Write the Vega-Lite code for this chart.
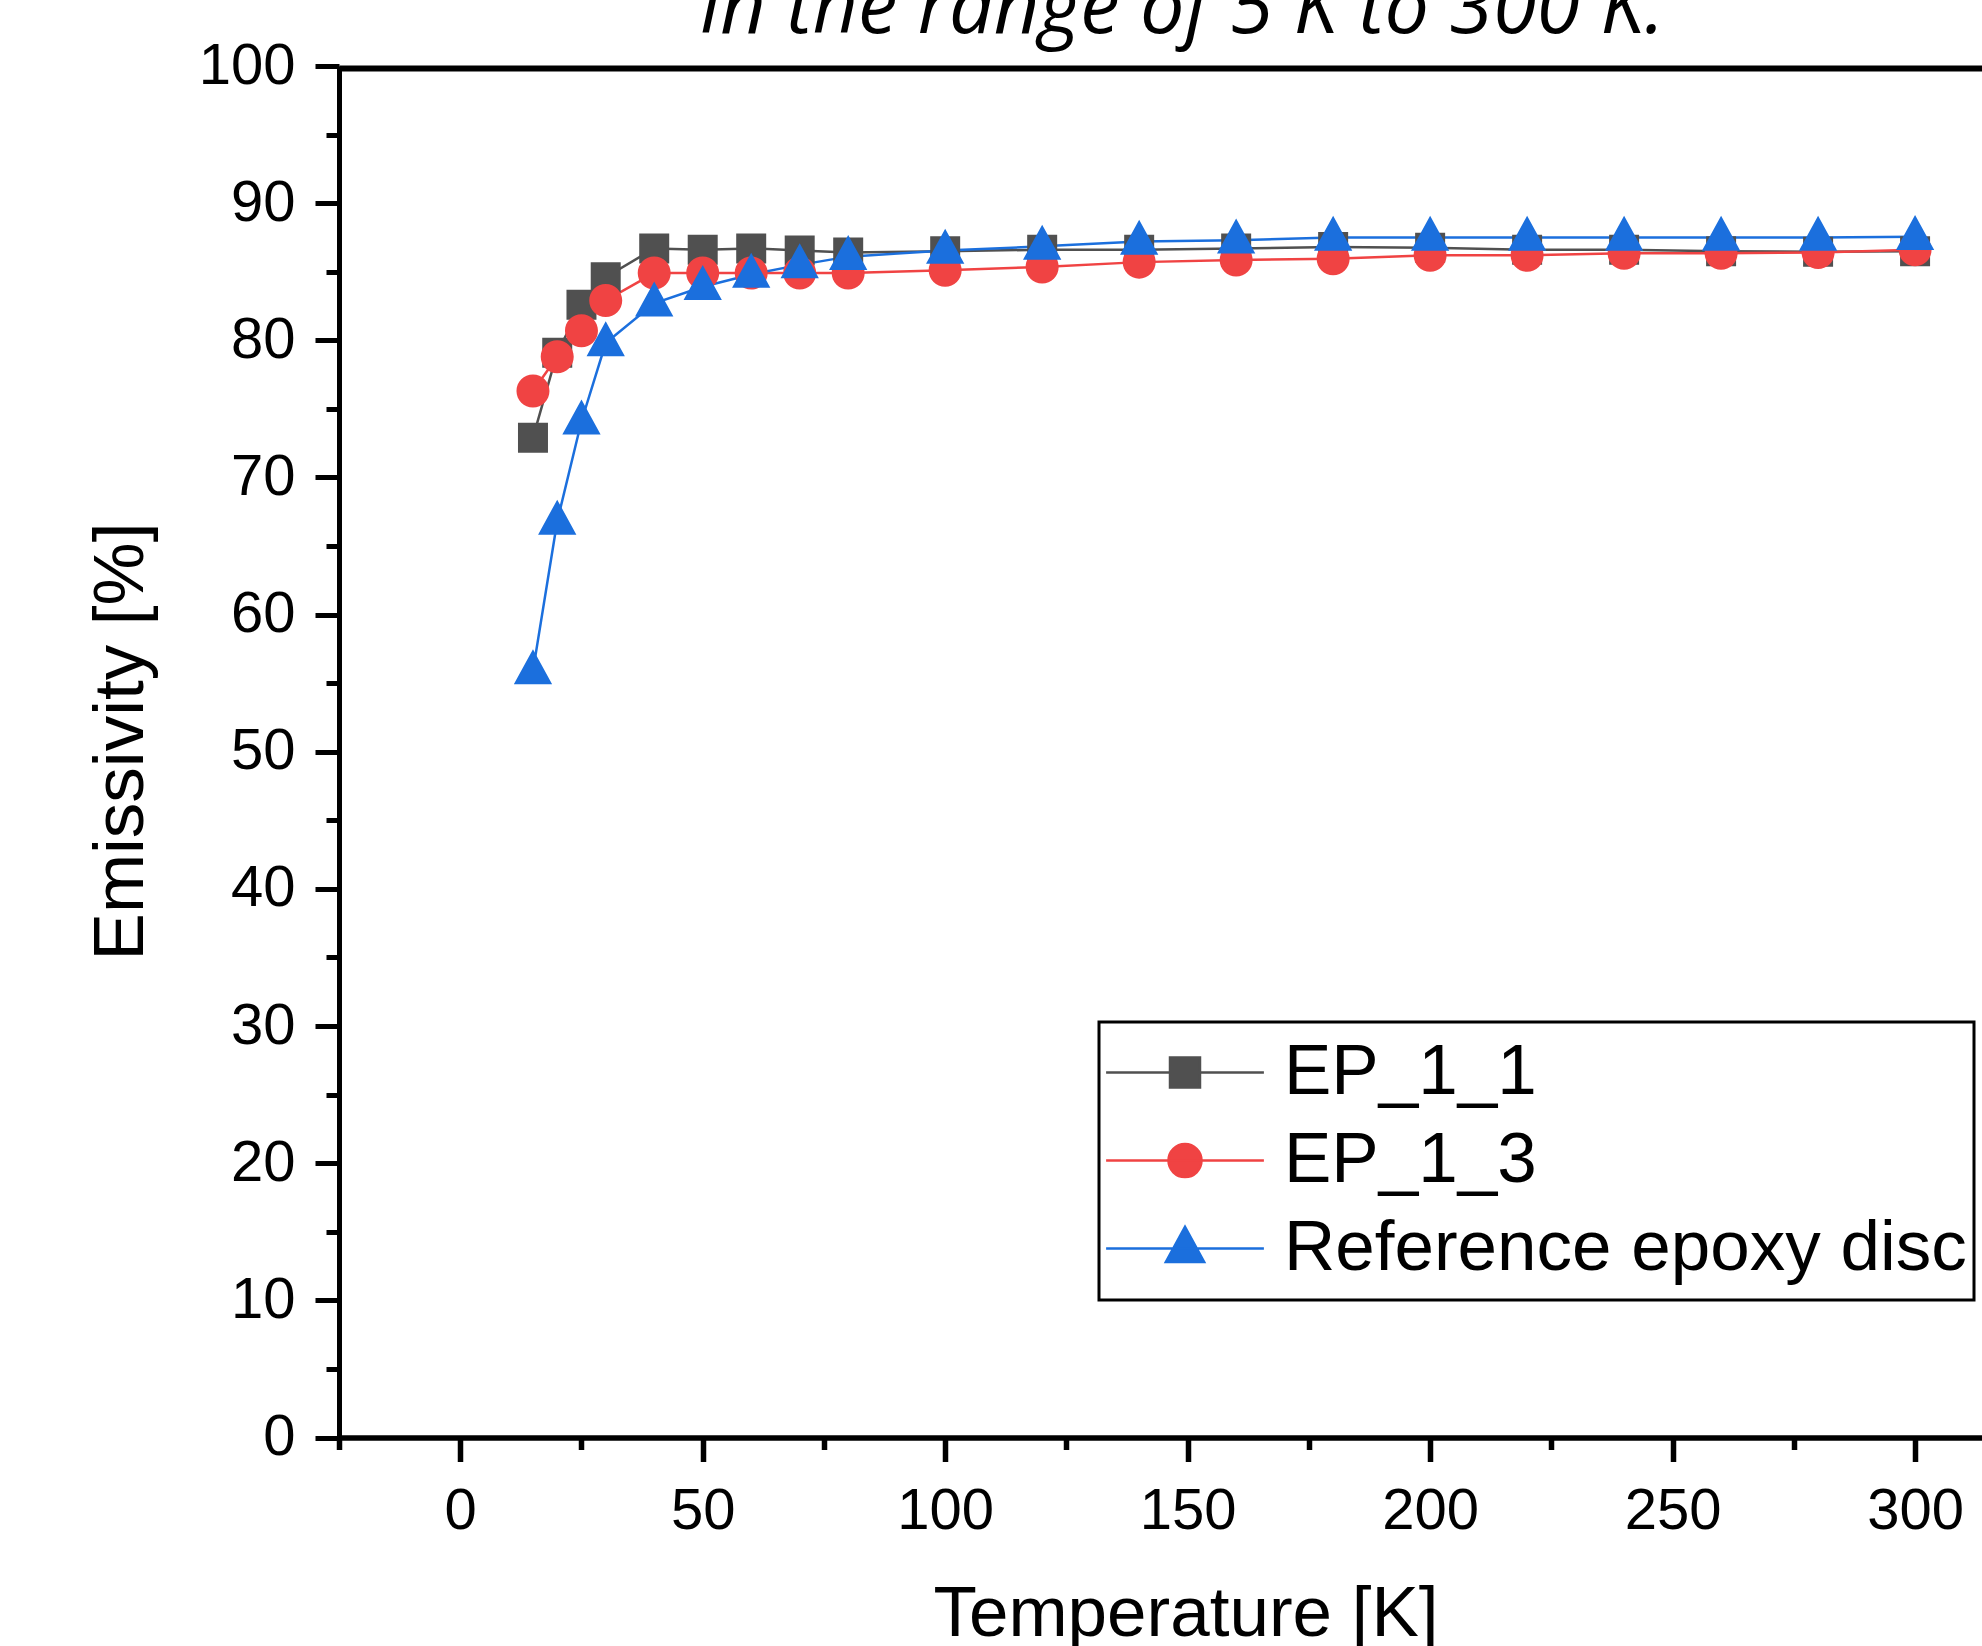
{
  "$schema": "https://vega.github.io/schema/vega-lite/v6.json",
  "autosize": "none",
  "padding": {"left": 339, "top": 66, "right": 0, "bottom": 208.5},
  "width": 1643,
  "height": 1371.5,
  "background": "white",
  "title": {
    "text": "in the range of 5 K to 300 K.",
    "font": "Open Sans",
    "fontSize": 79,
    "fontStyle": "italic",
    "fontWeight": "normal",
    "color": "black",
    "anchor": "middle",
    "dx": 22,
    "dy": 13,
    "offset": 0
  },
  "config": {
    "view": {"stroke": null},
    "axis": {"grid": false, "domainColor": "black", "tickColor": "black", "labelColor": "black", "titleColor": "black"},
    "legend": {"strokeWidth": 3}
  },
  "data": {
    "values": [
      {"T": 15, "E": 72.9, "series": "EP_1_1"},
      {"T": 20, "E": 79.1, "series": "EP_1_1"},
      {"T": 25, "E": 82.6, "series": "EP_1_1"},
      {"T": 30, "E": 84.6, "series": "EP_1_1"},
      {"T": 40, "E": 86.7, "series": "EP_1_1"},
      {"T": 50, "E": 86.6, "series": "EP_1_1"},
      {"T": 60, "E": 86.7, "series": "EP_1_1"},
      {"T": 70, "E": 86.55, "series": "EP_1_1"},
      {"T": 80, "E": 86.4, "series": "EP_1_1"},
      {"T": 100, "E": 86.5, "series": "EP_1_1"},
      {"T": 120, "E": 86.6, "series": "EP_1_1"},
      {"T": 140, "E": 86.6, "series": "EP_1_1"},
      {"T": 160, "E": 86.7, "series": "EP_1_1"},
      {"T": 180, "E": 86.8, "series": "EP_1_1"},
      {"T": 200, "E": 86.75, "series": "EP_1_1"},
      {"T": 220, "E": 86.6, "series": "EP_1_1"},
      {"T": 240, "E": 86.6, "series": "EP_1_1"},
      {"T": 260, "E": 86.5, "series": "EP_1_1"},
      {"T": 280, "E": 86.45, "series": "EP_1_1"},
      {"T": 300, "E": 86.5, "series": "EP_1_1"},
      {"T": 15, "E": 76.3, "series": "EP_1_3"},
      {"T": 20, "E": 78.8, "series": "EP_1_3"},
      {"T": 25, "E": 80.7, "series": "EP_1_3"},
      {"T": 30, "E": 82.9, "series": "EP_1_3"},
      {"T": 40, "E": 84.9, "series": "EP_1_3"},
      {"T": 50, "E": 84.9, "series": "EP_1_3"},
      {"T": 60, "E": 84.9, "series": "EP_1_3"},
      {"T": 70, "E": 84.9, "series": "EP_1_3"},
      {"T": 80, "E": 84.9, "series": "EP_1_3"},
      {"T": 100, "E": 85.1, "series": "EP_1_3"},
      {"T": 120, "E": 85.35, "series": "EP_1_3"},
      {"T": 140, "E": 85.7, "series": "EP_1_3"},
      {"T": 160, "E": 85.85, "series": "EP_1_3"},
      {"T": 180, "E": 85.95, "series": "EP_1_3"},
      {"T": 200, "E": 86.2, "series": "EP_1_3"},
      {"T": 220, "E": 86.2, "series": "EP_1_3"},
      {"T": 240, "E": 86.35, "series": "EP_1_3"},
      {"T": 260, "E": 86.35, "series": "EP_1_3"},
      {"T": 280, "E": 86.4, "series": "EP_1_3"},
      {"T": 300, "E": 86.6, "series": "EP_1_3"},
      {"T": 15, "E": 55.9, "series": "Reference epoxy disc"},
      {"T": 20, "E": 66.8, "series": "Reference epoxy disc"},
      {"T": 25, "E": 74.1, "series": "Reference epoxy disc"},
      {"T": 30, "E": 79.8, "series": "Reference epoxy disc"},
      {"T": 40, "E": 82.7, "series": "Reference epoxy disc"},
      {"T": 50, "E": 83.9, "series": "Reference epoxy disc"},
      {"T": 60, "E": 84.8, "series": "Reference epoxy disc"},
      {"T": 70, "E": 85.5, "series": "Reference epoxy disc"},
      {"T": 80, "E": 86.1, "series": "Reference epoxy disc"},
      {"T": 100, "E": 86.55, "series": "Reference epoxy disc"},
      {"T": 120, "E": 86.85, "series": "Reference epoxy disc"},
      {"T": 140, "E": 87.2, "series": "Reference epoxy disc"},
      {"T": 160, "E": 87.3, "series": "Reference epoxy disc"},
      {"T": 180, "E": 87.5, "series": "Reference epoxy disc"},
      {"T": 200, "E": 87.5, "series": "Reference epoxy disc"},
      {"T": 220, "E": 87.5, "series": "Reference epoxy disc"},
      {"T": 240, "E": 87.5, "series": "Reference epoxy disc"},
      {"T": 260, "E": 87.5, "series": "Reference epoxy disc"},
      {"T": 280, "E": 87.5, "series": "Reference epoxy disc"},
      {"T": 300, "E": 87.55, "series": "Reference epoxy disc"}
    ]
  },
  "resolve": {"axis": {"x": "independent", "y": "independent"}},
  "layer": [
    {
      "mark": {"type": "line", "strokeWidth": 2.5},
      "encoding": {
        "x": {
          "field": "T", "type": "quantitative",
          "scale": {"domain": [-25, 313.8], "nice": false, "zero": false},
          "axis": {
            "orient": "bottom", "values": [0, 50, 100, 150, 200, 250, 300],
            "domainWidth": 5.5, "tickWidth": 5.5, "tickSize": 24,
            "labelFont": "Liberation Sans", "labelFontSize": 58, "labelPadding": 21,
            "labelFlush": false, "labelOverlap": false,
            "title": "Temperature [K]", "titleFont": "Liberation Sans", "titleFontSize": 71,
            "titleFontWeight": "normal", "titleX": 846.5, "titleY": 141.5
          }
        },
        "y": {
          "field": "E", "type": "quantitative",
          "scale": {"domain": [0, 100], "nice": false},
          "axis": {
            "orient": "left", "values": [0, 10, 20, 30, 40, 50, 60, 70, 80, 90, 100],
            "domainWidth": 5, "tickWidth": 5, "tickSize": 24,
            "labelFont": "Liberation Sans", "labelFontSize": 58, "labelPadding": 20,
            "labelFlush": false, "labelOverlap": false,
            "title": "Emissivity [%]", "titleFont": "Liberation Sans", "titleFontSize": 71,
            "titleFontWeight": "normal", "titleX": -182, "titleY": 675
          }
        },
        "color": {
          "field": "series", "type": "nominal",
          "scale": {"domain": ["EP_1_1", "EP_1_3", "Reference epoxy disc"], "range": ["#505050", "#F04343", "#1B6FDD"]}
        },
        "detail": {"field": "series"}
      }
    },
    {
      "mark": {"type": "point", "filled": true, "size": 1467, "opacity": 1},
      "encoding": {
        "x": {
          "field": "T", "type": "quantitative",
          "axis": {
            "orient": "bottom", "values": [-25, 25, 75, 125, 175, 225, 275],
            "domain": false, "labels": false, "tickWidth": 5.5, "tickSize": 12, "title": null
          }
        },
        "y": {
          "field": "E", "type": "quantitative",
          "axis": {
            "orient": "left", "values": [5, 15, 25, 35, 45, 55, 65, 75, 85, 95],
            "domain": false, "labels": false, "tickWidth": 5, "tickSize": 13, "title": null
          }
        },
        "color": {
          "field": "series", "type": "nominal",
          "legend": {
            "orient": "none", "legendX": 760, "legendY": 956, "title": null,
            "strokeColor": "black", "padding": 7, "fillColor": "white",
            "cornerRadius": 0, "clipHeight": 87.2, "rowPadding": 0,
            "labelFont": "Liberation Sans", "labelFontSize": 71, "labelColor": "black",
            "labelOffset": 63.5, "labelLimit": 2000, "symbolOffset": 43.5,
            "symbolSize": 1467, "symbolStrokeWidth": 2.5, "symbolOpacity": 1,
            "symbolStrokeColor": {"expr": "scale('color', datum.value)"}
          }
        },
        "shape": {
          "field": "series", "type": "nominal",
          "scale": {
            "domain": ["EP_1_1", "EP_1_3", "Reference epoxy disc"],
            "range": [
              "M-4.12,0H4.12M-0.783,-0.783H0.783V0.783H-0.783Z",
              "M-4.12,0H4.12M-0.862,0A0.862,0.862,0,1,0,0.862,0A0.862,0.862,0,1,0,-0.862,0Z",
              "M-4.12,0H4.12M0,-1.133L1,0.695L-1,0.695Z"
            ]
          },
          "legend": {
            "orient": "none", "legendX": 760, "legendY": 956, "title": null,
            "strokeColor": "black", "padding": 7, "fillColor": "white",
            "cornerRadius": 0, "clipHeight": 87.2, "rowPadding": 0,
            "labelFont": "Liberation Sans", "labelFontSize": 71, "labelColor": "black",
            "labelOffset": 63.5, "labelLimit": 2000, "symbolOffset": 43.5,
            "symbolSize": 1467, "symbolStrokeWidth": 2.5, "symbolOpacity": 1,
            "symbolStrokeColor": {"expr": "scale('color', datum.value)"}
          }
        }
      }
    },
    {
      "mark": {"type": "point", "opacity": 0, "size": 1},
      "encoding": {
        "x": {
          "field": "T", "type": "quantitative",
          "axis": {"orient": "top", "domain": true, "domainWidth": 6, "ticks": false, "labels": false, "title": null, "offset": -2}
        },
        "y": {"field": "E", "type": "quantitative", "axis": null}
      }
    }
  ]
}
